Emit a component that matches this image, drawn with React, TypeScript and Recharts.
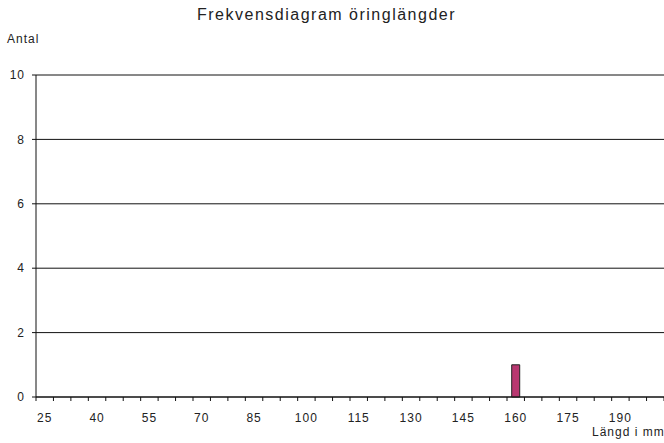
import React from 'react';
import { BarChart, Bar, XAxis, YAxis, CartesianGrid } from 'recharts';

const lengths = [
  25, 30, 35, 40, 45, 50, 55, 60, 65, 70, 75, 80, 85, 90, 95, 100, 105, 110,
  115, 120, 125, 130, 135, 140, 145, 150, 155, 160, 165, 170, 175, 180, 185, 190, 195, 200,
];
const counts = [
  0, 0, 0, 0, 0, 0, 0, 0, 0, 0, 0, 0, 0, 0, 0, 0, 0, 0,
  0, 0, 0, 0, 0, 0, 0, 0, 0, 1, 0, 0, 0, 0, 0, 0, 0, 0,
];
const yTicks = [0, 2, 4, 6, 8, 10];
const labelEvery = 3;

const data = lengths.map((l, i) => ({ length: String(l), count: counts[i] }));

const font = 'Arial, "Liberation Sans", sans-serif';
const tickStyle = { fill: '#222', fontSize: 12, fontFamily: font, letterSpacing: 1 };
const TICK_GAP = 16;
const MARK_LEN = 4;

// category axis tick: small mark on the boundary between categories, label on every third one
const CatTick = (props: any) => {
  const { x, y, width, visibleTicksCount, index, payload } = props;
  const half = width / visibleTicksCount / 2;
  const axisY = y - TICK_GAP;
  return (
    <g>
      <line x1={x - half} x2={x - half} y1={axisY} y2={axisY + MARK_LEN} stroke="#111" />
      {index === visibleTicksCount - 1 && (
        <line x1={x + half} x2={x + half} y1={axisY} y2={axisY + MARK_LEN} stroke="#111" />
      )}
      {index % labelEvery === 0 && (
        <text x={x} y={y} dy="0.71em" textAnchor="middle" {...tickStyle}>
          {payload.value}
        </text>
      )}
    </g>
  );
};

export default function App() {
  return (
    <div style={{ position: 'absolute', left: 0, top: 0, width: 664, height: 443, background: '#fff', fontFamily: font, color: '#222' }}>
      <div style={{ position: 'absolute', left: 197, top: 6, fontSize: 16, letterSpacing: 1.5, whiteSpace: 'nowrap' }}>
        Frekvensdiagram öringlängder
      </div>
      <div style={{ position: 'absolute', left: 7, top: 32, fontSize: 12, letterSpacing: 1 }}>Antal</div>
      <div style={{ position: 'absolute', left: 592, top: 425, fontSize: 12, letterSpacing: 1, whiteSpace: 'nowrap' }}>Längd i mm</div>
      <BarChart
        width={664}
        height={443}
        data={data}
        margin={{ top: 75, right: 0, bottom: 0, left: 0 }}
        barCategoryGap="27%"
      >
        <CartesianGrid vertical={false} stroke="#111" strokeOpacity={1} />
        <XAxis
          dataKey="length"
          height={46}
          interval={0}
          tickLine={false}
          axisLine={{ stroke: '#111' }}
          tickSize={0}
          tickMargin={TICK_GAP}
          tick={<CatTick />}
        />
        <YAxis
          width={36}
          domain={[0, 10]}
          ticks={yTicks}
          interval={0}
          axisLine={{ stroke: '#111' }}
          tickLine={{ stroke: '#111' }}
          tickSize={4}
          tickMargin={7}
          tick={tickStyle}
        />
        <Bar dataKey="count" fill="#b83770" stroke="#222" strokeWidth={1} isAnimationActive={false} />
      </BarChart>
    </div>
  );
}
